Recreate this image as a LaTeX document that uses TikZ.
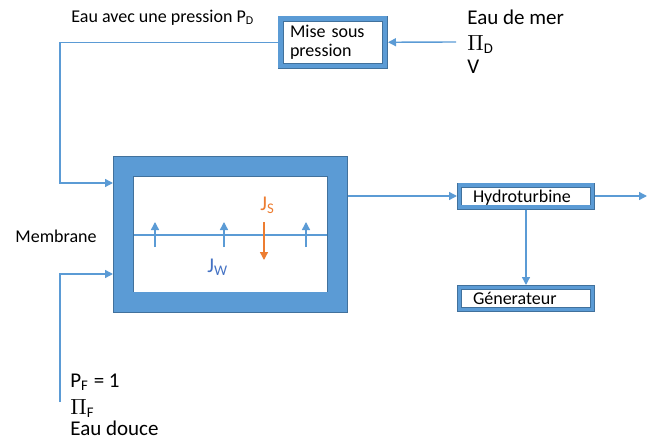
\documentclass[tikz,border=0pt]{standalone}
\usepackage{fontspec}
\setmainfont{Carlito}
\usetikzlibrary{arrows.meta}
\definecolor{bandblue}{HTML}{5B9BD5}
\definecolor{edgeblue}{HTML}{41719C}
\definecolor{fluxorange}{HTML}{ED7D31}
\definecolor{labelblue}{HTML}{4472C4}

\begin{document}
\begin{tikzpicture}[
    x=0.5pt, y=-0.5pt,                      % one unit = one pixel of the sketch
    every node/.style={inner sep=0pt},
    small/.style={font=\fontsize{9}{9.5}\selectfont},
    large/.style={font=\fontsize{10.5}{12}\selectfont},
    frame/.style={                          % blue framed box
        draw=edgeblue,                      % thin dark edges
        double=bandblue,                    % blue band in between
        line width=0.4pt,
        fill=white
    },
    unit/.style={                           % small framed box, one line of text
        frame, small,
        double distance=1.7pt, outer sep=1.25pt,
        align=left, text width=53pt, inner xsep=6.75pt,
        minimum height=11pt, text height=6pt, text depth=0pt
    },
    flow/.style={draw=bandblue, line width=0.7pt, -{Triangle[width=4pt,length=4pt]}}
]
\useasboundingbox (0,0) rectangle (649,439);

% Boxes
\node[frame, double distance=9.7pt, outer sep=5.25pt,
      minimum width=107pt, minimum height=67.75pt] (memb) at (230.5,234.25) {};
\node[frame, small, double distance=2.2pt, outer sep=1.5pt, align=left,
      text width=42.75pt, inner xsep=4.75pt, minimum height=23.75pt] (mise) at (332.75,42.25) {Mise sous\\pression};
\node[unit] (hydro) at (526,196) {Hydroturbine};
\node[unit] (gen) at (526,298.5) {Génerateur};

% Membrane and fluxes
\draw[draw=bandblue, line width=0.7pt] (134,235) -- (327,235);
\foreach \x in {155,224,306} {
    \draw[flow] (\x,247) -- (\x,222);
}
\draw[flow, draw=fluxorange] (264,222) -- (264,260);
\node[large, text=fluxorange, anchor=base west] (js) at (260,210) {J\textsubscript{S}};
\node[large, text=labelblue, anchor=base west] (jw) at (207,272) {J\textsubscript{W}};

% Labels
\node[small, anchor=base west] (pd) at (71,23) {Eau avec une pression P\textsubscript{D}};
\node[large, anchor=base west] (mer) at (467,25) {Eau de mer};
\node[large, anchor=base west] (pid) at (467,50) {$\Pi$\textsubscript{D}};
\node[large, anchor=base west] (vol) at (467,74) {V};
\node[small, anchor=base west] (membl) at (15,242) {Membrane};
\node[large, anchor=base west] (pf) at (70,387) {P\textsubscript{F} = 1};
\node[large, anchor=base west] (pif) at (70,414) {$\Pi$\textsubscript{F}};
\node[large, anchor=base west] (douce) at (70,435) {Eau douce};

% Connectors
\coordinate (seain) at (456,42);
\coordinate (topin) at (60,183);
\coordinate (freshin) at (60,402);
\coordinate (lowin) at (60,274);
\coordinate (turbout) at (647,196);
\draw[flow] (seain) -- (mise.east);
\draw[flow] (mise.west) -| (topin) -- (topin -| memb.west);
\draw[flow] (freshin) -- (lowin) -- (lowin -| memb.west);
\draw[flow] (memb.east |- hydro.west) -- (hydro.west);
\draw[flow] (hydro.east) -- (turbout);
\draw[flow] (hydro.south) -- (gen.north);

\end{tikzpicture}
\end{document}
